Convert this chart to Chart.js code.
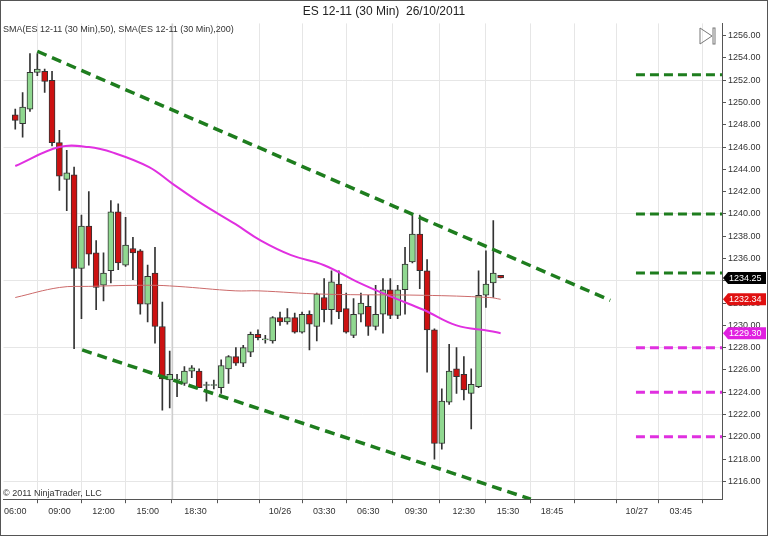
<!DOCTYPE html>
<html>
<head>
<meta charset="utf-8">
<script src="https://cdn.jsdelivr.net/npm/chart.js@4/dist/chart.umd.min.js"></script>
<style>
  html, body { margin: 0; padding: 0; background: #fff; }
  #wrap { width: 766px; height: 534px; border: 1px solid #555; }
</style>
</head>
<body>
<div id="wrap"><canvas id="c" width="766" height="534"></canvas></div>
<script>
// 30 min bars, index 0 = 06:00 on 25/10
const opens  = [1248.9,1248.1,1249.4,1252.7,1252.8,1252.0,1246.4,1243.1,1243.5,1235.1,1238.9,1236.5,1233.6,1234.9,1240.2,1235.4,1236.9,1236.7,1231.9,1234.7,1229.9,1225.1,1225.1,1224.8,1225.9,1225.9,1224.6,1224.6,1224.4,1226.1,1227.2,1226.6,1227.6,1229.2,1228.7,1228.6,1230.7,1230.3,1230.7,1229.4,1231.0,1229.9,1232.5,1231.4,1233.7,1231.5,1229.1,1231.0,1231.7,1229.9,1231.0,1233.2,1230.9,1233.2,1235.7,1238.2,1234.9,1229.6,1219.4,1223.1,1226.1,1225.6,1223.9,1224.5,1232.7,1233.8,1234.5];
const highs  = [1249.4,1250.9,1254.4,1254.4,1253.0,1252.8,1247.5,1245.7,1244.2,1239.9,1242.0,1237.6,1236.5,1241.2,1240.9,1239.7,1237.9,1236.8,1235.4,1237.0,1232.1,1227.7,1225.6,1226.3,1226.4,1226.1,1224.9,1225.1,1226.9,1227.3,1228.0,1228.2,1229.4,1229.6,1229.1,1230.8,1231.2,1231.5,1231.1,1231.2,1231.3,1232.9,1234.2,1234.9,1234.9,1232.9,1232.4,1232.9,1232.7,1233.6,1234.2,1234.2,1233.6,1237.0,1239.9,1239.9,1235.9,1229.7,1224.3,1228.3,1228.0,1227.2,1226.1,1234.9,1236.7,1239.4,1234.5];
const lows   = [1247.6,1246.9,1249.2,1252.4,1250.9,1246.1,1242.1,1240.3,1227.9,1230.6,1235.4,1231.4,1232.2,1233.8,1235.0,1235.3,1234.1,1231.0,1230.3,1228.4,1222.4,1222.6,1223.6,1224.6,1225.3,1224.4,1223.2,1224.3,1223.9,1224.8,1226.4,1226.3,1227.2,1228.7,1228.4,1228.4,1230.0,1230.1,1229.3,1229.3,1227.8,1228.6,1230.3,1230.1,1230.6,1229.3,1228.9,1230.3,1229.1,1229.6,1229.3,1230.6,1230.6,1231.0,1235.6,1233.3,1225.8,1218.0,1218.9,1222.9,1223.9,1223.3,1220.7,1224.4,1231.6,1232.5,1234.25];
const closes = [1248.4,1249.6,1252.7,1253.0,1251.9,1246.4,1243.4,1243.7,1235.1,1238.9,1236.4,1233.4,1234.7,1240.2,1235.6,1237.2,1236.5,1231.9,1234.4,1229.9,1225.2,1225.6,1225.15,1225.9,1226.2,1224.4,1224.65,1224.65,1226.4,1227.2,1226.6,1228.0,1229.2,1228.9,1228.75,1230.7,1230.3,1230.7,1229.4,1231.0,1230.1,1232.8,1231.4,1233.9,1231.2,1229.4,1231.0,1232.0,1229.9,1231.0,1233.2,1230.9,1233.2,1235.5,1238.2,1234.9,1229.6,1219.4,1223.2,1225.9,1225.4,1224.2,1224.7,1232.7,1233.7,1234.7,1234.25];

// moving averages read at bar positions
const sma50Idx  = [0,6,10,13.3,18.2,21.4,25.4,29.9,33.4,37.5,42,46.5,51,55.5,60,64.5,66];
const sma50Val  = [1244.3,1246.0,1246.0,1245.5,1244.2,1242.7,1240.9,1239.1,1237.6,1236.3,1235.4,1233.9,1232.6,1231.4,1230.0,1229.5,1229.3];
const sma200Idx = [0,6,10,18.2,22,29.9,33,42,55.5,64.5,66];
const sma200Val = [1232.5,1233.4,1233.5,1233.6,1233.5,1233.1,1233.1,1232.8,1232.7,1232.5,1232.34];

// drawn trend channel: [startIdx, startPrice, endIdx, endPrice]
const upperTrend = [3.0, 1254.6, 80.9, 1232.25];
const lowerTrend = [9.1, 1227.8, 70.1, 1214.4];

// horizontal levels on the right
const levelStart = 84.4, levelEnd = 96.1;
const greenLevels   = [1252.5, 1240.0, 1234.7];
const magentaLevels = [1228.0, 1224.0, 1220.0];

// x axis ticks
const xTickPos    = [0,6,12,18,24.5,30.5,36,42,48,54.5,61,67,73,79,84.5,90.5];
const xTickLabels = ['06:00','09:00','12:00','15:00','18:30','','10/26','03:30','06:30','09:30','12:30','15:30','18:45','','10/27','03:45'];
const sessionBreak = 21.4;

// last value markers
const markerVals   = [1234.25, 1232.34, 1229.30];
const markerColors = ['#000000', '#e01010', '#e020e0'];

const GREEN = '#90d890', RED = '#cc1111', TREND = '#1e7d1e', MAG = '#e030e0';

const idx = opens.map((_, i) => i);
const up = idx.map(i => closes[i] >= opens[i]);

const pts = (xs, ys) => xs.map((x, i) => ({ x: x, y: ys[i] }));

const datasets = [
  {
    type: 'bar', label: 'wick', order: 5, grouped: false,
    data: idx.map(i => ({ x: i, y: [lows[i], highs[i]] })),
    backgroundColor: '#333', borderWidth: 0, barThickness: 1, minBarLength: 1
  },
  {
    type: 'bar', label: 'body', order: 4, grouped: false,
    data: idx.map(i => ({ x: i, y: [opens[i], closes[i]] })),
    backgroundColor: idx.map(i => up[i] ? GREEN : RED),
    borderColor: '#333', borderWidth: 1, borderSkipped: false, barThickness: 6, minBarLength: 1
  },
  {
    type: 'line', label: 'sma200', order: 3, data: pts(sma200Idx, sma200Val),
    borderColor: '#cc6a6a', borderWidth: 1, pointRadius: 0, tension: 0.4
  },
  {
    type: 'line', label: 'sma50', order: 3, data: pts(sma50Idx, sma50Val),
    borderColor: MAG, borderWidth: 2, pointRadius: 0, tension: 0.4
  },
  {
    type: 'line', label: 'upper', order: 1,
    data: [{ x: upperTrend[0], y: upperTrend[1] }, { x: upperTrend[2], y: upperTrend[3] }],
    borderColor: TREND, borderWidth: 3.5, borderDash: [10, 6], pointRadius: 0
  },
  {
    type: 'line', label: 'lower', order: 1,
    data: [{ x: lowerTrend[0], y: lowerTrend[1] }, { x: lowerTrend[2], y: lowerTrend[3] }],
    borderColor: TREND, borderWidth: 3.5, borderDash: [10, 6], pointRadius: 0
  }
];
greenLevels.forEach(v => datasets.push({
  type: 'line', order: 1, data: [{ x: levelStart, y: v }, { x: levelEnd, y: v }],
  borderColor: TREND, borderWidth: 3, borderDash: [9, 5], pointRadius: 0
}));
magentaLevels.forEach(v => datasets.push({
  type: 'line', order: 1, data: [{ x: levelStart, y: v }, { x: levelEnd, y: v }],
  borderColor: MAG, borderWidth: 3, borderDash: [9, 5], pointRadius: 0
}));

const extras = {
  id: 'extras',
  beforeDatasetsDraw(chart) {
    const { ctx, chartArea: a, scales: { x } } = chart;
    const px = x.getPixelForValue(sessionBreak);
    ctx.save();
    ctx.strokeStyle = '#c8c8c8';
    ctx.lineWidth = 1;
    ctx.beginPath(); ctx.moveTo(px, a.top); ctx.lineTo(px, a.bottom); ctx.stroke();
    ctx.restore();
  },
  afterDraw(chart) {
    const { ctx, chartArea: a, scales: { y } } = chart;
    ctx.save();
    ctx.font = '9px "Liberation Sans", Arial, sans-serif';
    ctx.fillStyle = '#333';
    ctx.textBaseline = 'middle';
    ctx.fillText('SMA(ES 12-11 (30 Min),50), SMA(ES 12-11 (30 Min),200)', 2, 29);
    ctx.fillText('\u00a9 2011 NinjaTrader, LLC', 2, a.bottom - 6);

    // price markers
    markerVals.forEach((v, i) => {
      const py = y.getPixelForValue(v);
      const x0 = a.right + 1;
      ctx.fillStyle = markerColors[i];
      ctx.beginPath();
      ctx.moveTo(x0, py);
      ctx.lineTo(x0 + 5, py - 6);
      ctx.lineTo(x0 + 43, py - 6);
      ctx.lineTo(x0 + 43, py + 6);
      ctx.lineTo(x0 + 5, py + 6);
      ctx.closePath();
      ctx.fill();
      ctx.fillStyle = '#fff';
      ctx.font = '9px "Liberation Sans", Arial, sans-serif';
      ctx.fillText(v.toFixed(2), x0 + 6, py + 0.5);
    });

    // scroll-to-end icon
    ctx.strokeStyle = '#777';
    ctx.lineWidth = 1;
    const ix = a.right - 22, iy = 35;
    ctx.beginPath();
    ctx.moveTo(ix, iy - 8); ctx.lineTo(ix + 12, iy); ctx.lineTo(ix, iy + 8); ctx.closePath();
    ctx.stroke();
    ctx.strokeRect(ix + 13, iy - 8, 2, 16);
    ctx.restore();
  }
};

new Chart(document.getElementById('c'), {
  data: { datasets: datasets },
  options: {
    responsive: false,
    animation: false,
    layout: { padding: { left: 0, right: 0, bottom: 15, top: 0 } },
    plugins: {
      legend: { display: false },
      tooltip: { enabled: false },
      title: {
        display: true,
        text: 'ES 12-11 (30 Min)  26/10/2011',
        color: '#222',
        font: { size: 12, family: '"Liberation Sans", Arial, sans-serif', weight: 'normal' },
        padding: { top: 3, bottom: 5 }
      }
    },
    scales: {
      x: {
        type: 'linear', min: -1.6, max: 96.1, offset: false,
        afterBuildTicks: s => { s.ticks = xTickPos.map(v => ({ value: v })); },
        ticks: {
          autoSkip: false, maxRotation: 0, color: '#333',
          font: { size: 9, family: '"Liberation Sans", Arial, sans-serif' },
          callback: (v, i) => xTickLabels[i]
        },
        grid: { color: '#e6e6e6', tickColor: '#555', tickLength: 4 },
        border: { color: '#555' }
      },
      y: {
        position: 'right', min: 1214.4, max: 1257.1,
        afterFit: s => { s.width = 45; },
        afterBuildTicks: s => {
          const t = [];
          for (let v = 1216; v <= 1256; v += 2) t.push({ value: v });
          s.ticks = t;
        },
        ticks: {
          color: '#333', padding: 2,
          font: { size: 9, family: '"Liberation Sans", Arial, sans-serif' },
          callback: v => v.toFixed(2)
        },
        grid: {
          color: c => ((c.tick && (c.tick.value - 1216) % 6 === 0) ? '#e6e6e6' : 'rgba(0,0,0,0)'),
          tickColor: '#555', tickLength: 4
        },
        border: { color: '#555' }
      }
    }
  },
  plugins: [extras]
});
</script>
</body>
</html>
